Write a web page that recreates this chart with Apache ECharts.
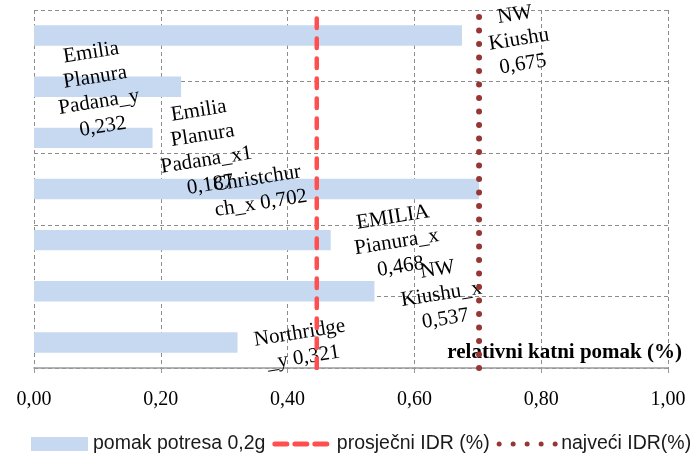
<!DOCTYPE html>
<html>
<head>
<meta charset="utf-8">
<script src="https://cdn.jsdelivr.net/npm/echarts@6/dist/echarts.min.js"></script>
<style>html,body{margin:0;padding:0;background:#fff}#c{width:696px;height:455px}</style>
</head>
<body>
<div id="c"></div>
<script>
var categories = ['NW Kiushu', 'Emilia Planura Padana_y', 'Emilia Planura Padana_x1', 'Christchurch_x', 'EMILIA Pianura_x', 'NW Kiushu_x', 'Northridge_y'];
var labelTexts = ['NW\nKiushu\n0,675', 'Emilia\nPlanura\nPadana_y\n0,232', 'Emilia\nPlanura\nPadana_x1\n0,187', 'Christchur\nch_x 0,702', 'EMILIA\nPianura_x\n0,468', 'NW\nKiushu_x\n0,537', 'Northridge\n_y 0,321'];
var displacement = [0.675, 0.232, 0.187, 0.702, 0.468, 0.537, 0.321];
var avgIDR = 0.446;
var maxIDR = 0.702;
var xTicks = ['0,00', '0,20', '0,40', '0,60', '0,80', '1,00'];
var seriesNames = ['pomak potresa 0,2g', 'prosječni IDR (%)', 'najveći IDR(%)'];

// label placement (style only): anchor on bar + screen offset in px
var ROT = 9;
var labelPos = [
  {pos: ['100%', '50%'], off: [57, 4]},
  {pos: ['0%', '50%'], off: [63, 3]},
  {pos: ['100%', '50%'], off: [52, 10]},
  {pos: ['0%', '50%'], off: [225, 2]},
  {pos: ['100%', '50%'], off: [66, 2]},
  {pos: ['100%', '50%'], off: [67, 3]},
  {pos: ['100%', '50%'], off: [64, 3]}
];
function localOffset(o) {
  var t = ROT * Math.PI / 180, c = Math.cos(t), s = Math.sin(t);
  return [o[0] * c - o[1] * s, o[0] * s + o[1] * c];
}

var barData = displacement.map(function (v, i) {
  return {
    value: v,
    label: {
      show: true,
      formatter: labelTexts[i],
      position: labelPos[i].pos,
      offset: localOffset(labelPos[i].off),
      align: 'center',
      verticalAlign: 'middle',
      rotate: ROT,
      fontFamily: 'Liberation Serif',
      fontSize: 21,
      lineHeight: 25,
      color: '#000'
    }
  };
});

var gridLine = {show: true, lineStyle: {color: '#8c8c8c', type: [4, 3], width: 1}};

var chart = echarts.init(document.getElementById('c'), null, {renderer: 'canvas'});
chart.setOption({
  animation: false,
  backgroundColor: '#fff',
  grid: {left: 34, right: 28, top: 10, bottom: 87, containLabel: false},
  legend: {
    left: 26, top: 429, width: 690,
    itemWidth: 57, itemHeight: 14, itemGap: 7,
    textStyle: {fontFamily: 'Liberation Sans', fontSize: 19.5, color: '#1a1a1a'},
    data: [
      {name: seriesNames[0], icon: 'rect'},
      {name: seriesNames[1], itemStyle: {opacity: 0}, lineStyle: {type: [12, 8], width: 5, cap: 'round', color: '#ff4f4f'}},
      {name: seriesNames[2], itemStyle: {opacity: 0}, lineStyle: {type: [0, 14], width: 5, cap: 'round', color: '#953735'}}
    ]
  },
  xAxis: {
    type: 'value', min: 0, max: 1, interval: 0.2,
    axisLine: {show: true, onZero: false, lineStyle: {color: '#9a9a9a', width: 1.5}},
    axisTick: {show: true, length: 5, lineStyle: {color: '#9a9a9a'}},
    axisLabel: {
      margin: 22, fontFamily: 'Liberation Serif', fontSize: 20, color: '#000',
      formatter: function (v) { return xTicks[Math.round(v / 0.2)]; }
    },
    splitLine: gridLine,
    name: 'relativni katni pomak (%)',
    nameLocation: 'end',
    nameGap: 14,
    nameTextStyle: {fontFamily: 'Liberation Serif', fontSize: 21, fontWeight: 'bold', color: '#000', align: 'right', verticalAlign: 'bottom', padding: [0, 0, 5, 0]}
  },
  yAxis: [
    {
      type: 'category', data: categories, inverse: true,
      axisLine: {show: false}, axisTick: {show: false}, axisLabel: {show: false}, splitLine: {show: false}
    },
    {
      type: 'value', min: 0, max: 5, interval: 1, position: 'right',
      axisLine: {show: false}, axisTick: {show: false}, axisLabel: {show: false},
      splitLine: gridLine
    }
  ],
  series: [
    {
      name: seriesNames[0], type: 'bar', yAxisIndex: 0, barWidth: '40%',
      itemStyle: {color: '#c6d9f1'},
      data: barData, z: 2
    },
    {
      name: seriesNames[1], type: 'line', yAxisIndex: 1, symbol: 'none',
      lineStyle: {color: '#ff4f4f', width: 4.5, type: [9.5, 10.5], cap: 'round'},
      itemStyle: {color: '#ff4f4f'},
      data: [[avgIDR, 0], [avgIDR, 5]], z: 3
    },
    {
      name: seriesNames[2], type: 'line', yAxisIndex: 1, symbol: 'none',
      lineStyle: {color: '#953735', width: 6, type: [0, 13.5], cap: 'round'},
      itemStyle: {color: '#953735'},
      data: [[maxIDR, 0], [maxIDR, 4.905]], z: 3
    }
  ]
});
</script>
</body>
</html>
